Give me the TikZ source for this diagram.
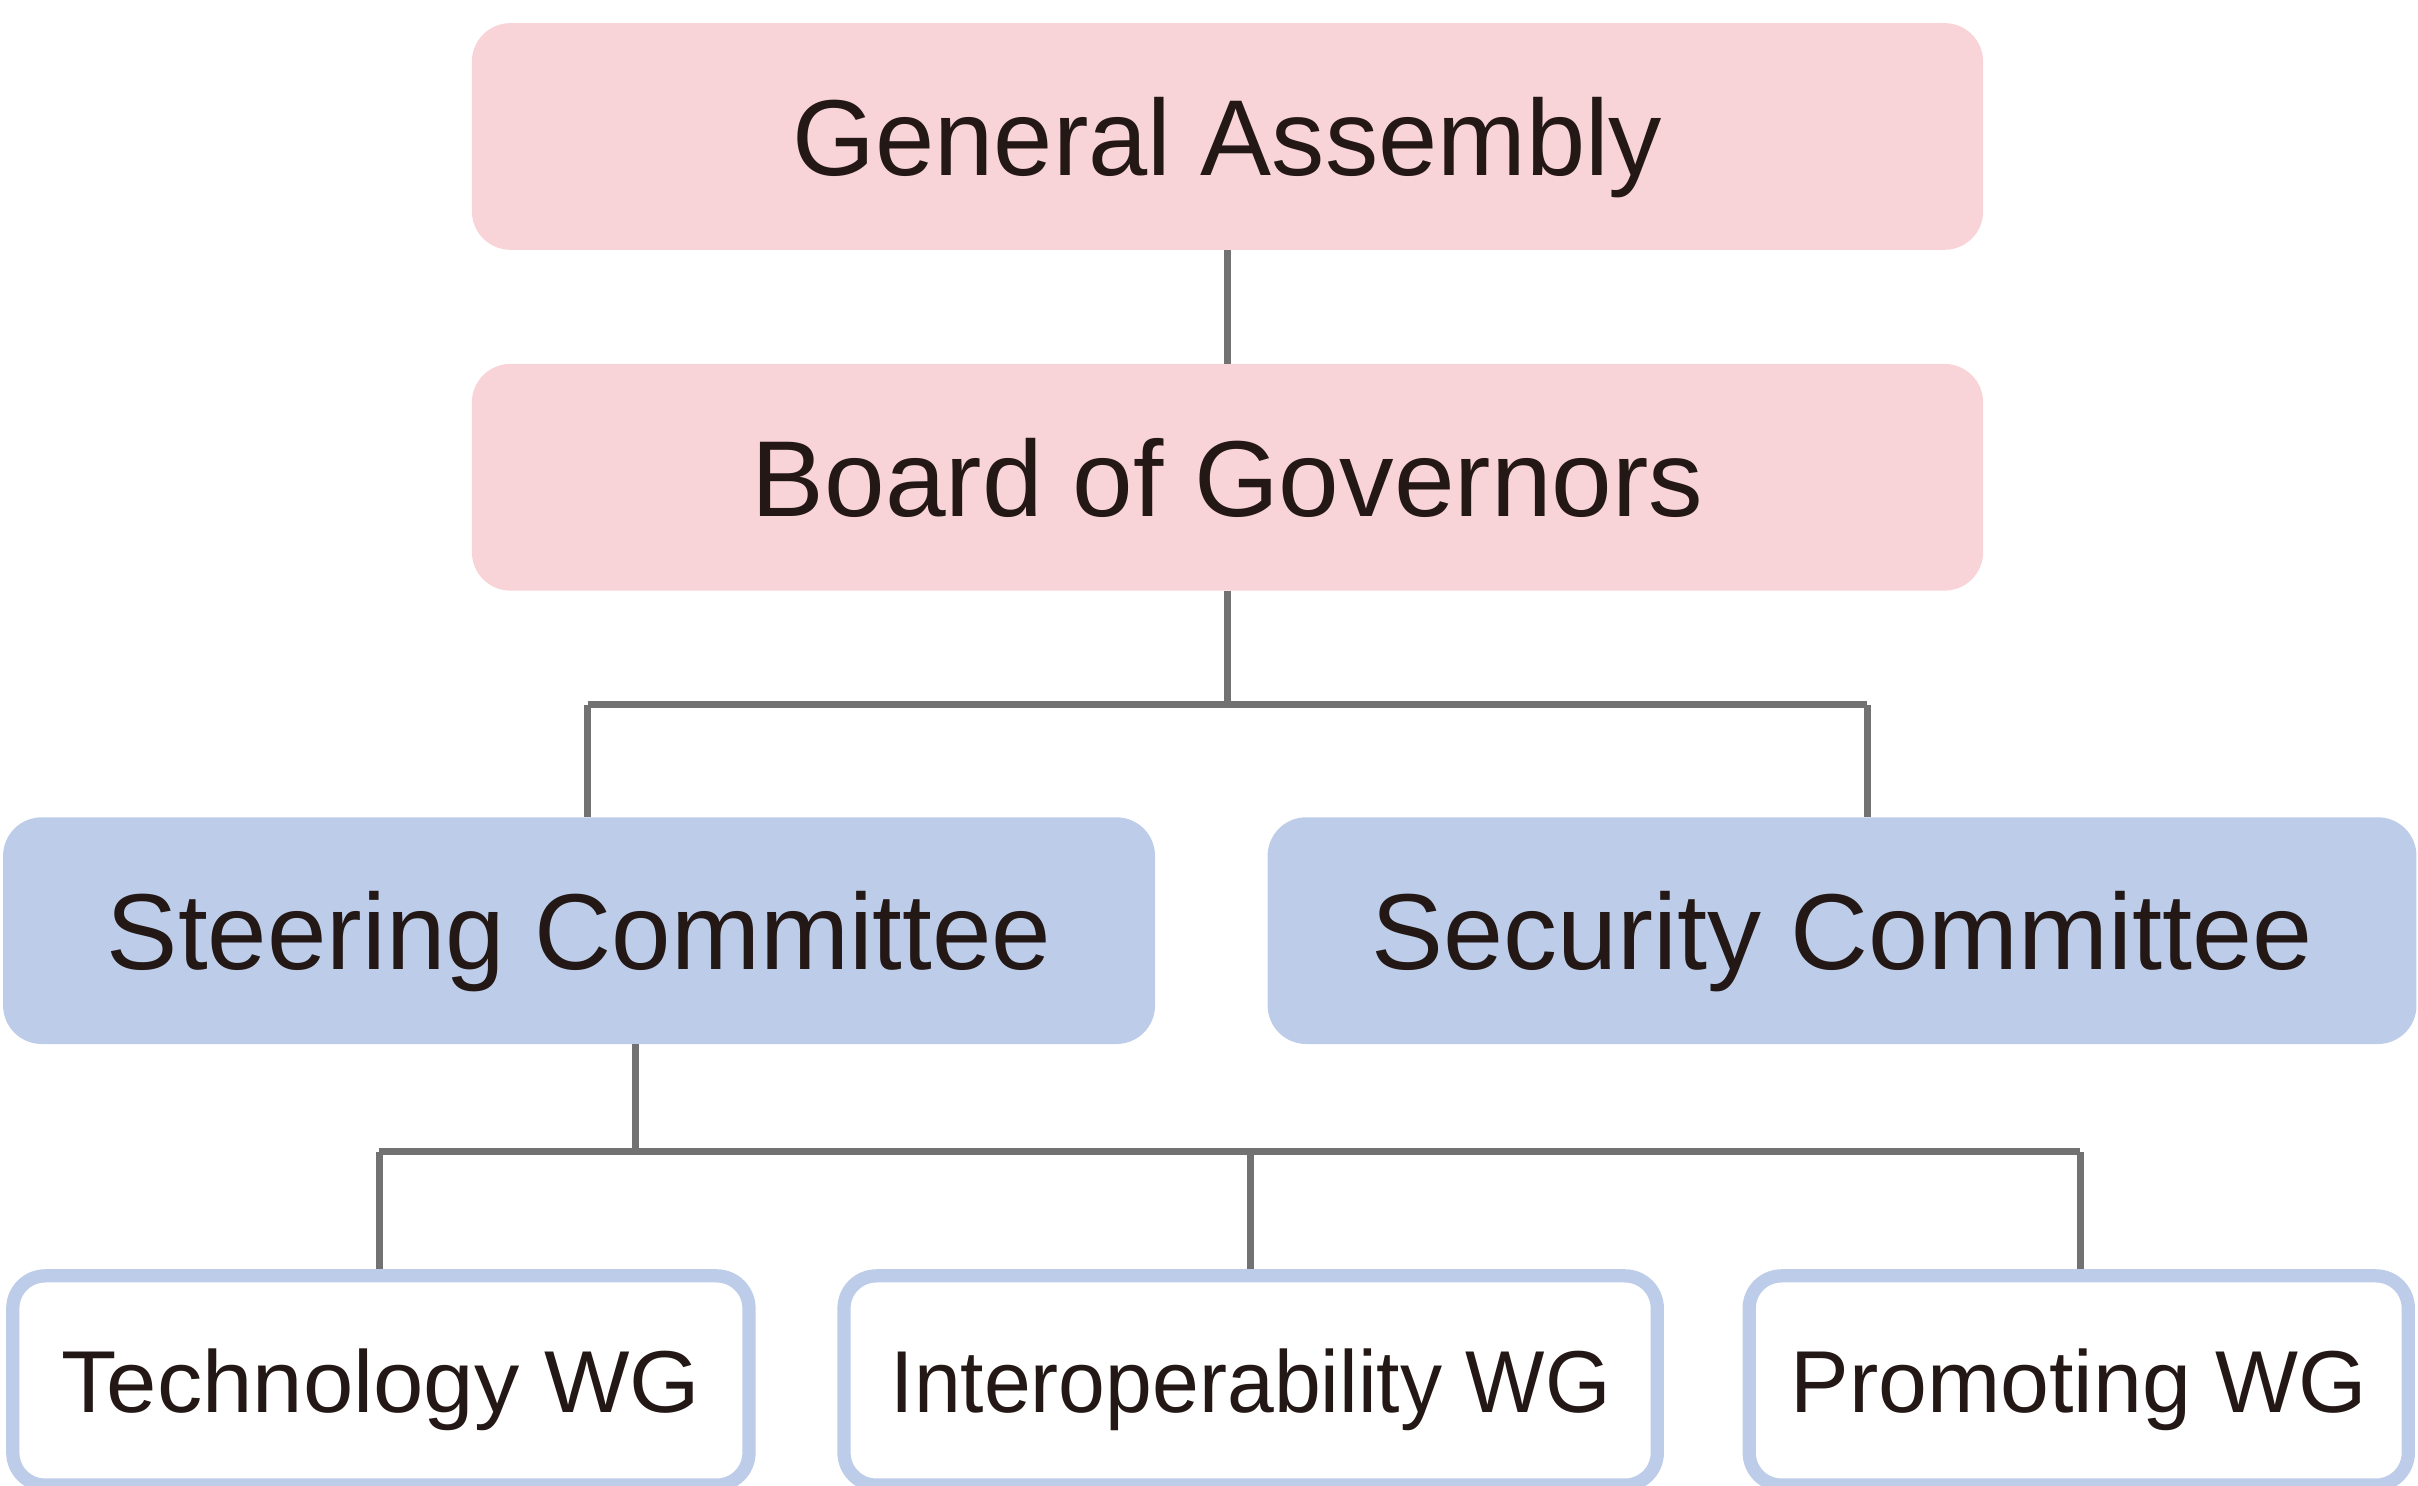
\documentclass[tikz,border=0pt]{standalone}
\usepackage{fontspec}
\setmainfont{Liberation Sans}
\definecolor{pinkc}{HTML}{F8D3D8}
\definecolor{bluec}{HTML}{BDCDE9}
\definecolor{txtc}{HTML}{231815}
\definecolor{linec}{HTML}{727272}
\begin{document}
\begin{tikzpicture}[x=1pt,y=-1pt,
  basebox/.style={rectangle, inner sep=0pt, text=txtc, text depth=0pt},
  topbox/.style={basebox, rounded corners=25pt, fill=pinkc, minimum width=980pt, minimum height=147pt,
    font=\fontsize{70}{84}\selectfont, text height=50.5pt},
  combox/.style={basebox, rounded corners=25pt, fill=bluec, minimum height=147pt,
    font=\fontsize{70}{84}\selectfont, text height=50.5pt},
  wgbox/.style={basebox, draw=bluec, line width=8.6pt, fill=white, rounded corners=21pt, minimum height=135.7pt,
    font=\fontsize{57}{68}\selectfont, text height=41pt},
  conn/.style={draw=linec, line width=4.5pt}]
\useasboundingbox (0,0) rectangle (1568,963);
\node[topbox] (ga) at (796,88.5) {\scalebox{0.986}[1]{General Assembly}};
\node[topbox] (bog) at (796,309.5) {\scalebox{1.01}[1]{Board of Governors}};
\node[combox, minimum width=747pt] (steer) at (375.5,603.5) {\scalebox{0.99}[1]{Steering Committee}};
\node[combox, minimum width=745pt] (sec) at (1194.5,603.5) {Security Committee};
\node[wgbox, minimum width=477.4pt] (tech) at (247,895.2) {\scalebox{1.03}[1]{Technology WG}};
\node[wgbox, minimum width=527.4pt] (inter) at (811,895.2) {\scalebox{0.957}[1]{Interoperability WG}};
\node[wgbox, minimum width=427.4pt] (prom) at (1348,895.2) {Promoting WG};
\coordinate (j1) at (796,457);
\coordinate (l1) at (381,457);
\coordinate (r1) at (1211,457);
\coordinate (s1) at (412,677);
\coordinate (j2) at (412,749);
\coordinate (l2) at (246,747);
\coordinate (m2) at (811,747);
\coordinate (r2) at (1349,747);
\draw[conn] (ga.south) -- (bog.north);
\draw[conn] (bog.south) -- (j1);
\draw[conn] (l1) -- (r1);
\draw[conn] (l1) -- (l1 |- steer.north);
\draw[conn] (r1) -- (r1 |- sec.north);
\draw[conn] (s1) -- (j2);
\draw[conn] (l2) -- (r2);
\draw[conn] (l2) -- (l2 |- tech.north);
\draw[conn] (m2) -- (m2 |- inter.north);
\draw[conn] (r2) -- (r2 |- prom.north);
\end{tikzpicture}
\end{document}
